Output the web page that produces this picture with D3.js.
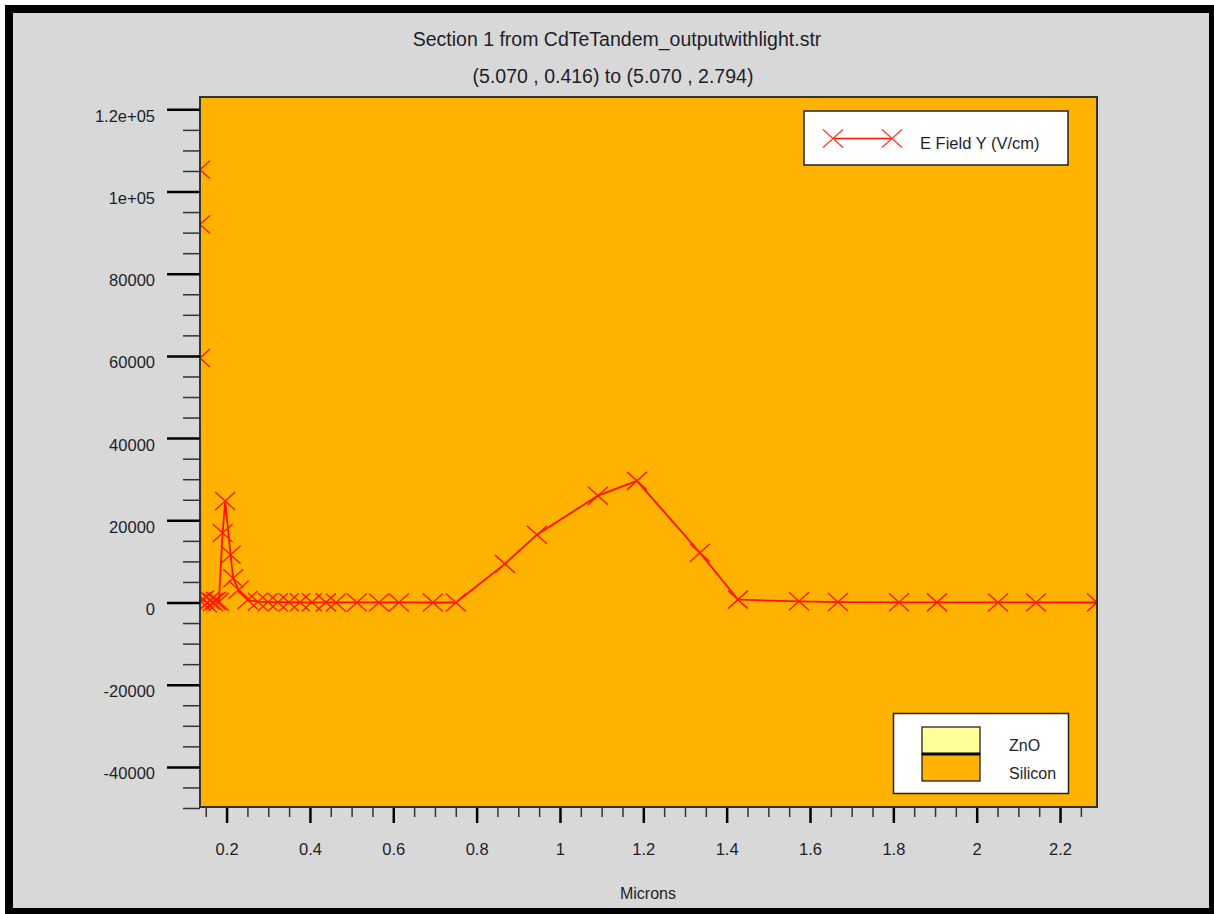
<!DOCTYPE html>
<html>
<head>
<meta charset="utf-8">
<script src="https://cdn.jsdelivr.net/npm/d3@7"></script>
<style>
  body { margin: 0; background: #fff; }
  svg text { font-family: "Liberation Sans", Arial, sans-serif; fill: #1e1e28; }
</style>
</head>
<body>
<svg id="chart" width="1214" height="914"></svg>
<script>
// values
const xMicrons = [0.1362, 0.1362, 0.1362, 0.1372, 0.1455, 0.1527, 0.1600, 0.1671, 0.1743, 0.1815,
  0.1904, 0.1966, 0.2096, 0.2158, 0.2288, 0.2504, 0.2751, 0.2991, 0.3231, 0.3495, 0.3759,
  0.4047, 0.4383, 0.4623, 0.5127, 0.5655, 0.6135, 0.6951, 0.7503, 0.8679, 0.9447, 1.0911,
  1.1847, 1.3359, 1.4271, 1.5735, 1.6671, 1.8135, 1.9047, 2.0511, 2.1423, 2.2887];
const eFieldY = [105300, 92000, 59500, 300, 700, -200, 500, 100, 400, 200,
  16900, 24700, 11600, 5900, 3100, 600, 200, 100, 80, 60, 50,
  40, 30, 20, 20, 10, 10, 0, 0, 9400, 16500, 26000,
  29600, 12100, 700, 300, 100, 50, 30, 20, 10, 0];

const yMajor = [120000, 100000, 80000, 60000, 40000, 20000, 0, -20000, -40000];
const yMajorLabels = ["1.2e+05", "1e+05", "80000", "60000", "40000", "20000", "0", "-20000", "-40000"];
const yMinor = [115000, 110000, 105000, 95000, 90000, 85000, 75000, 70000, 65000, 55000, 50000, 45000,
  35000, 30000, 25000, 15000, 10000, 5000, -5000, -10000, -15000, -25000, -30000, -35000, -45000, -50000];
const xMajor = [0.2, 0.4, 0.6, 0.8, 1, 1.2, 1.4, 1.6, 1.8, 2, 2.2];
const xMajorLabels = ["0.2", "0.4", "0.6", "0.8", "1", "1.2", "1.4", "1.6", "1.8", "2", "2.2"];
const xMinor = [0.15, 0.25, 0.3, 0.35, 0.45, 0.5, 0.55, 0.65, 0.7, 0.75, 0.85, 0.9, 0.95,
  1.05, 1.1, 1.15, 1.25, 1.3, 1.35, 1.45, 1.5, 1.55, 1.65, 1.7, 1.75, 1.85, 1.9, 1.95,
  2.05, 2.1, 2.15, 2.25];

const materials = ["ZnO", "Silicon"];
const materialColors = ["#ffff99", "#ffb200"];

var svg = d3.select("#chart"),
    pLeft = 200, pRight = 1097, pTop = 97, pBottom = 808;

var x = d3.scaleLinear().domain([0.1362, 2.2887]).range([pLeft, pRight]),
    y = d3.scaleLinear().domain([-50000, 123000]).range([pBottom, pTop]);

// outer frame
svg.append("rect").attr("x", 5).attr("y", 5).attr("width", 1209).attr("height", 909).attr("fill", "#000");
svg.append("rect").attr("x", 13).attr("y", 13).attr("width", 1196).attr("height", 895).attr("fill", "#d8d8d8");

// titles
svg.append("text").attr("x", 617).attr("y", 46).attr("text-anchor", "middle")
    .style("font-size", "19.5px").text("Section 1 from CdTeTandem_outputwithlight.str");
svg.append("text").attr("x", 613).attr("y", 83).attr("text-anchor", "middle")
    .style("font-size", "19.5px").text("(5.070 , 0.416) to (5.070 , 2.794)");
svg.append("text").attr("x", 648).attr("y", 899).attr("text-anchor", "middle")
    .style("font-size", "16px").text("Microns");

// plot area
svg.append("defs").append("clipPath").attr("id", "clip")
    .append("rect").attr("x", pLeft).attr("y", pTop).attr("width", pRight - pLeft).attr("height", pBottom - pTop);
svg.append("rect").attr("x", pLeft).attr("y", pTop).attr("width", pRight - pLeft).attr("height", pBottom - pTop)
    .attr("fill", materialColors[1]);

var pts = xMicrons.map((d, i) => [d, eFieldY[i]]);
var plot = svg.append("g").attr("clip-path", "url(#clip)");

var line = d3.line().x(d => x(d[0])).y(d => y(d[1]));
plot.append("path").datum(pts).attr("d", line)
    .attr("fill", "none").attr("stroke", "#ff1000").attr("stroke-width", 1.8);

function xMark(cx, cy) {
    return `M${cx - 10},${cy - 9}L${cx + 10},${cy + 9}M${cx - 10},${cy + 9}L${cx + 10},${cy - 9}`;
}
plot.selectAll(".mk").data(pts).enter().append("path")
    .attr("class", "mk")
    .attr("d", d => xMark(x(d[0]), y(d[1])))
    .attr("fill", "none").attr("stroke", "#ff1a00").attr("stroke-width", 1.4);

// legend for the curve
var lg = svg.append("g");
lg.append("rect").attr("x", 804).attr("y", 111).attr("width", 264).attr("height", 54)
    .attr("fill", "#fff").attr("stroke", "#222").attr("stroke-width", 1.5);
lg.append("line").attr("x1", 833).attr("x2", 892).attr("y1", 138.5).attr("y2", 138.5)
    .attr("stroke", "#ff1500").attr("stroke-width", 1.6);
[833, 892].forEach(cx => {
    lg.append("path").attr("d", xMark(cx, 138.5)).attr("fill", "none")
        .attr("stroke", "#ff3a2a").attr("stroke-width", 1.3);
});
lg.append("text").attr("x", 920).attr("y", 149).style("font-size", "16.5px").text("E Field Y (V/cm)");

// legend for materials
var lm = svg.append("g");
lm.append("rect").attr("x", 893.5).attr("y", 713.5).attr("width", 175).attr("height", 80)
    .attr("fill", "#fff").attr("stroke", "#222").attr("stroke-width", 1.5);
materials.forEach((m, i) => {
    lm.append("rect").attr("x", 922).attr("y", 727 + i * 27).attr("width", 58).attr("height", 27)
        .attr("fill", materialColors[i]).attr("stroke", "#111").attr("stroke-width", 1.2);
    lm.append("text").attr("x", 1009).attr("y", 751 + i * 28).style("font-size", "16px").text(m);
});
lm.append("line").attr("x1", 922).attr("x2", 980).attr("y1", 754).attr("y2", 754)
    .attr("stroke", "#000").attr("stroke-width", 3);

// plot frame
svg.append("rect").attr("x", pLeft).attr("y", pTop).attr("width", pRight - pLeft).attr("height", pBottom - 1 - pTop)
    .attr("fill", "none").attr("stroke", "#333").attr("stroke-width", 2);

// y axis
var yAxisMinor = svg.append("g").attr("transform", `translate(${pLeft},0)`)
    .call(d3.axisLeft(y).tickValues(yMinor).tickSize(17).tickFormat(""));
var yAxisMajor = svg.append("g").attr("transform", `translate(${pLeft},0)`)
    .call(d3.axisLeft(y).tickValues(yMajor).tickSize(33).tickPadding(12)
        .tickFormat((d, i) => yMajorLabels[i]));
yAxisMinor.select(".domain").remove();
yAxisMajor.select(".domain").remove();
yAxisMinor.selectAll("line").attr("stroke", "#333").attr("stroke-width", 1.5);
yAxisMajor.selectAll("line").attr("stroke", "#000").attr("stroke-width", 2.5);
yAxisMajor.selectAll("text").attr("dy", "0.72em").style("font-size", "16.5px")
    .attr("font-family", null).attr("fill", null);

// x axis
var xAxisMinor = svg.append("g").attr("transform", `translate(0,${pBottom})`)
    .call(d3.axisBottom(x).tickValues(xMinor).tickSize(9).tickFormat(""));
var xAxisMajor = svg.append("g").attr("transform", `translate(0,${pBottom})`)
    .call(d3.axisBottom(x).tickValues(xMajor).tickSize(15).tickPadding(20)
        .tickFormat((d, i) => xMajorLabels[i]));
xAxisMinor.select(".domain").remove();
xAxisMajor.select(".domain").remove();
xAxisMinor.selectAll("line").attr("stroke", "#333").attr("stroke-width", 1.5);
xAxisMajor.selectAll("line").attr("stroke", "#000").attr("stroke-width", 2.5);
xAxisMajor.selectAll("text").style("font-size", "16.5px")
    .attr("font-family", null).attr("fill", null);
</script>
</body>
</html>
